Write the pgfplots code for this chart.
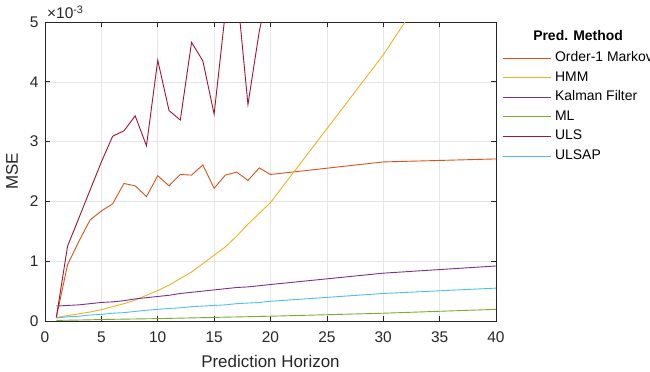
\documentclass[border=0pt]{standalone}
\usepackage{fontspec}
\setmainfont{Liberation Sans}
\usepackage{pgfplots}
\pgfplotsset{compat=1.18}
\definecolor{axc}{HTML}{262626}
\definecolor{gridc}{HTML}{E6E6E6}
\definecolor{cOne}{HTML}{D95319}
\definecolor{cHMM}{HTML}{EDB120}
\definecolor{cKal}{HTML}{7E2F8E}
\definecolor{cML}{HTML}{77AC30}
\definecolor{cULS}{HTML}{A2142F}
\definecolor{cULSAP}{HTML}{4DBEEE}
\begin{document}
\begin{tikzpicture}
\begin{axis}[
  at={(45bp,51bp)}, anchor=south west,
  scale only axis, width=451bp, height=299bp,
  xmin=0, xmax=40, ymin=0, ymax=5,
  xtick={0,5,...,40}, ytick={0,1,2,3,4,5},
  tick align=inside, major tick length=4.5bp,
  grid=major, major grid style={color=gridc, line width=0.6bp},
  axis line style={color=axc, line width=0.7bp},
  tick style={color=axc, line width=0.7bp},
  ticklabel style={font=\fontsize{15.5}{18}\selectfont, color=axc},
  xticklabel style={yshift=-7bp},
  yticklabel style={xshift=-3bp},
  /pgf/number format/assume math mode=true,
  xlabel={Prediction Horizon}, ylabel={MSE},
  label style={font=\fontsize{17}{20}\selectfont, color=axc},
  xlabel style={yshift=-6bp},
  ylabel style={yshift=5bp},
  clip mode=individual,
  every axis plot/.append style={line width=0.9bp},
  legend cell align=left,
  legend image code/.code={\draw[#1] (0bp,0bp) -- (48bp,0bp);},
  legend style={draw=none, fill=none, at={(1.0133,0.902)}, anchor=north west,
    inner sep=0pt, row sep=6.6bp, column sep=4bp,
    font=\fontsize{14}{16}\selectfont,
    nodes={inner sep=0pt, text height=10bp, text depth=3bp}},
]
\addplot[color=cOne] coordinates {(1,0.055)(2,0.94)(3,1.33)(4,1.69)(5,1.84)(6,1.96)(7,2.30)(8,2.26)(9,2.08)(10,2.43)(11,2.26)(12,2.45)(13,2.44)(14,2.61)(15,2.22)(16,2.44)(17,2.49)(18,2.35)(19,2.56)(20,2.45)(30,2.66)(40,2.71)};
\addlegendentry{Order-1 Markov}
\addplot[color=cHMM] coordinates {(1,0.06)(2,0.09)(3,0.12)(4,0.15)(5,0.19)(6,0.24)(7,0.29)(8,0.35)(9,0.43)(10,0.51)(11,0.60)(12,0.71)(13,0.82)(14,0.96)(15,1.10)(16,1.24)(17,1.42)(18,1.62)(19,1.80)(20,1.98)(30,4.45)(40,7.3)};
\addlegendentry{HMM}
\addplot[color=cKal] coordinates {(1,0.25)(2,0.26)(3,0.27)(4,0.29)(5,0.31)(6,0.32)(7,0.34)(8,0.37)(9,0.39)(10,0.41)(11,0.43)(12,0.46)(13,0.48)(14,0.50)(15,0.52)(16,0.54)(17,0.56)(18,0.57)(19,0.59)(20,0.61)(30,0.80)(40,0.92)};
\addlegendentry{Kalman Filter}
\addplot[color=cML] coordinates {(1,0.01)(2,0.013)(3,0.016)(4,0.02)(5,0.025)(6,0.028)(7,0.031)(8,0.034)(9,0.037)(10,0.04)(11,0.044)(12,0.048)(13,0.052)(14,0.056)(15,0.06)(16,0.064)(17,0.068)(18,0.072)(19,0.076)(20,0.08)(30,0.13)(40,0.195)};
\addlegendentry{ML}
\addplot[color=cULS] coordinates {(1,0.055)(2,1.25)(3,1.72)(4,2.19)(5,2.66)(6,3.09)(7,3.18)(8,3.43)(9,2.93)(10,4.36)(11,3.52)(12,3.36)(13,4.66)(14,4.35)(15,3.46)(16,5.17)(17,5.59)(18,3.62)(19,4.84)(20,5.7)(30,8)(40,10)};
\addlegendentry{ULS}
\addplot[color=cULSAP] coordinates {(1,0.05)(2,0.07)(3,0.08)(4,0.10)(5,0.11)(6,0.13)(7,0.14)(8,0.16)(9,0.18)(10,0.195)(11,0.21)(12,0.22)(13,0.24)(14,0.25)(15,0.26)(16,0.27)(17,0.29)(18,0.30)(19,0.31)(20,0.33)(30,0.46)(40,0.55)};
\addlegendentry{ULSAP}
\node[anchor=base west, inner sep=0pt, font=\fontsize{15.5}{18}\selectfont, color=axc] at (rel axis cs:0,1) [xshift=2bp, yshift=3.7bp] {×10\textsuperscript{-3}};
\node[font=\bfseries\fontsize{14}{16}\selectfont, color=black] at (rel axis cs:1.182,0.954) {Pred. Method};
\end{axis}
\pgfresetboundingbox
\path[use as bounding box] (0,0) rectangle (650bp,372bp);
\end{tikzpicture}
\end{document}
